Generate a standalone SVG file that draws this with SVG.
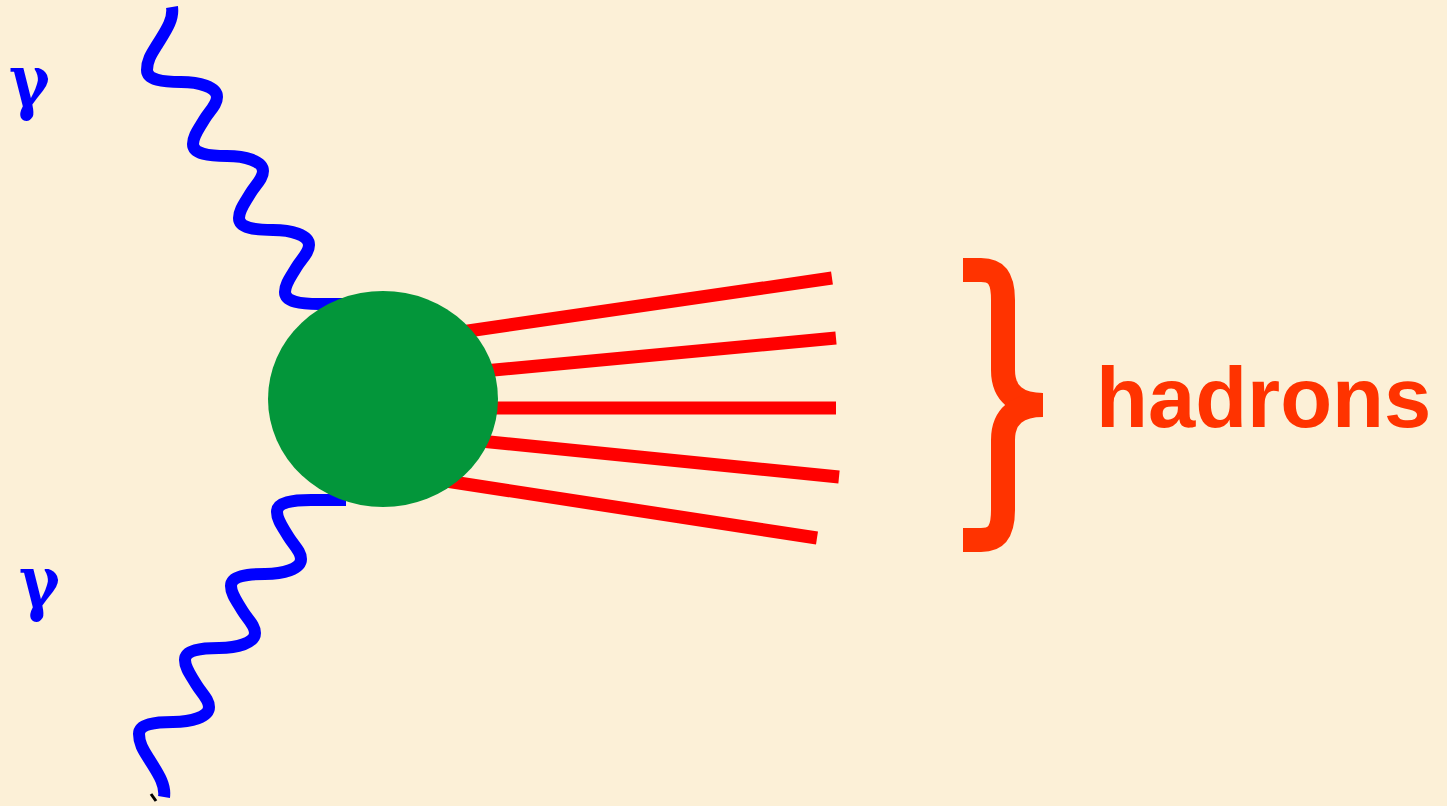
<svg xmlns="http://www.w3.org/2000/svg" xmlns:xlink="http://www.w3.org/1999/xlink" width="1447" height="806" viewBox="0 0 1447 806">
  <style>
    .photon { fill: none; stroke: #0000FF; stroke-width: 12; stroke-linecap: butt; stroke-linejoin: round; }
    .hadron { stroke: #FF0000; stroke-width: 13; stroke-linecap: butt; }
    .gamma { font-family: "DejaVu Serif", "Liberation Serif", serif; font-weight: bold; font-size: 72px; fill: #0000FF; }
    .label { font-family: "Liberation Sans", Arial, sans-serif; font-weight: bold; font-size: 85px; fill: #FF3300; }
    .brace { fill: none; stroke: #FF3300; stroke-width: 24; stroke-linecap: butt; stroke-linejoin: round; }
  </style>
  <defs>
    <path id="photonPath" d="M 172,7 C 174,20 165,32 157,45 C 152,53 147,60 147,70
      c 0,10 16,12 34,12 c 18,0 36,5 36,15 c 0,8 -8,14.4 -13,23 c -5,8.6 -11,16 -11,24
      c 0,10 16,12 34,12 c 18,0 36,5 36,15 c 0,8 -8,14.4 -13,23 c -5,8.6 -11,16 -11,24
      c 0,10 16,12 34,12 c 18,0 36,5 36,15 c 0,8 -8,14.4 -13,23 c -5,8.6 -11,16 -11,24
      c 0,10 16,12 34,12 l 35,0"/>
  </defs>
  <rect x="0" y="0" width="1447" height="806" fill="#FCF0D7"/>

  <g id="connectors">
    <use id="photon-top" xlink:href="#photonPath" href="#photonPath" class="photon"/>
    <use id="photon-bottom" xlink:href="#photonPath" href="#photonPath" class="photon" transform="translate(-8,804) scale(1,-1)"/>
    <path d="M 151,794 L 156,801" stroke="#000000" stroke-width="3" fill="none"/>
    <line class="hadron" x1="420" y1="338" x2="832" y2="278"/>
    <line class="hadron" x1="420" y1="377" x2="836" y2="338"/>
    <line class="hadron" x1="420" y1="408" x2="836" y2="408"/>
    <line class="hadron" x1="420" y1="435" x2="839" y2="477"/>
    <line class="hadron" x1="420" y1="477" x2="817" y2="538"/>
  </g>

  <g id="blob">
    <ellipse cx="383" cy="399" rx="115" ry="108" fill="#03963A"/>
  </g>

  <g id="gamma-top">
    <text class="gamma" transform="translate(9,106) scale(0.86,1)" x="0" y="0">γ</text>
  </g>
  <g id="gamma-bottom">
    <text class="gamma" transform="translate(19,607) scale(0.86,1)" x="0" y="0">γ</text>
  </g>

  <g id="hadrons">
    <path class="brace" d="M 963,270 L 981,270 C 998,270 1003,280 1003,300 L 1003,370 C 1003,394 1018,405 1043,405"/>
    <path class="brace" d="M 1043,405 C 1018,405 1003,416 1003,440 L 1003,510 C 1003,530 998,540 981,540 L 963,540"/>
    <text class="label" x="1096" y="427">hadrons</text>
  </g>
</svg>
